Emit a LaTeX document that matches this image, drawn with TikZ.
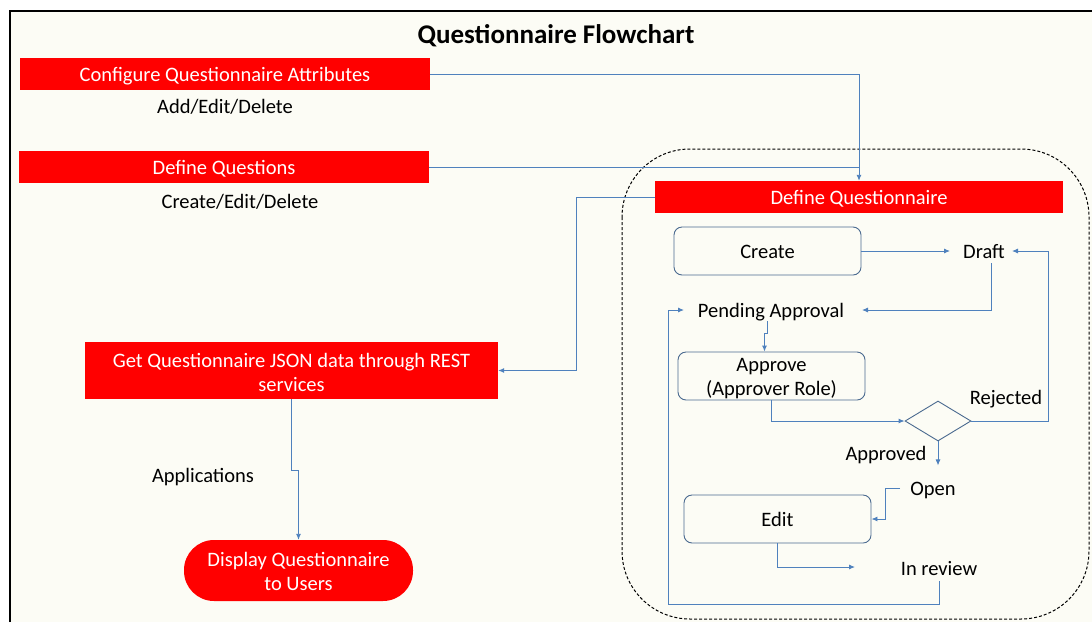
\documentclass[tikz,border=0pt]{standalone}
\usepackage{fontspec}
\setmainfont{Carlito}
\usetikzlibrary{shapes.geometric,arrows.meta,calc}
\definecolor{qred}{HTML}{FF0000}
\definecolor{qline}{HTML}{4F81BD}
\definecolor{qedge}{HTML}{4A6A8F}
\definecolor{qbg}{HTML}{FCFCF5}
\tikzset{
  txt/.style={font=\fontsize{20.5}{24}\selectfont, text height=18pt, text depth=4pt},
  twolines/.style={text height=42pt, text depth=4pt},
  redbox/.style={rectangle, fill=qred, text=white, inner sep=0pt, align=center, txt},
  roundbox/.style={rectangle, rounded corners=8pt, draw=qedge, line width=0.9pt, fill=qbg, minimum width=187pt, minimum height=48pt, inner sep=0pt, align=center, txt},
  lbl/.style={inner sep=0pt, txt, align=center},
  conn/.style={draw=qline, line width=0.9pt},
  arr/.style={conn, -{Latex[length=6pt,width=5pt]}},
}
\begin{document}
\begin{tikzpicture}[x=1pt,y=-1pt]
\useasboundingbox (0,0) rectangle (1092,622);
\fill[white] (0,0) rectangle (1092,622);
\fill[qbg] (10,11) rectangle (1092,622);
\draw[black, line width=2pt] (9.5,622) -- (9.5,10.5) -- (1092,10.5);
% dashed container
\draw[black, line width=1pt, dash pattern=on 3pt off 2pt, rounded corners=68pt] (622,149) rectangle (1089,619);

\node[font=\fontsize{27}{30}\selectfont\bfseries] (title) at (556,36) {Questionnaire Flowchart};

\node[redbox, minimum width=410pt, minimum height=32pt] (cfg) at (225,74) {Configure Questionnaire Attributes};
\node[lbl] (cfgsub) at (225,106) {Add/Edit/Delete};
\node[redbox, minimum width=410pt, minimum height=32pt] (defq) at (224,167) {Define Questions};
\node[lbl] (defqsub) at (240,201) {Create/Edit/Delete};
\node[redbox, minimum width=408pt, minimum height=32pt] (dqn) at (859,197) {Define Questionnaire};
\node[redbox, twolines, text height=45pt, minimum width=413pt, minimum height=57pt] (json) at (291.5,370.5) {Get Questionnaire JSON data through REST\\services};
\node[redbox, twolines, text height=43pt, minimum width=229pt, minimum height=61pt, rounded corners=30pt] (disp) at (298.5,570.5) {Display Questionnaire\\to Users};
\node[lbl] (apps) at (203,475) {Applications};

\node[roundbox] (create) at (767.5,251) {Create};
\node[lbl] (draft) at (984,251) {Draft};
\node[lbl] (pending) at (771,310) {Pending Approval};
\node[roundbox, twolines] (approve) at (771.5,376) {Approve\\(Approver Role)};
\node[diamond, draw=qedge, line width=0.9pt, fill=qbg, minimum width=66pt, minimum height=40pt, inner sep=0pt] (dia) at (938,421) {};
\node[lbl] (rejected) at (1006,397) {Rejected};
\node[lbl] (approved) at (886,453) {Approved};
\node[lbl] (open) at (933,488) {Open};
\node[roundbox] (edit) at (777.5,519) {Edit};
\node[lbl] (inreview) at (939,568) {In review};

% connectors
\draw[arr] (cfg.east) -| (dqn.north);
\draw[conn] (defq.east) -- (defq.east -| dqn.north);
\draw[arr] (dqn.west) -- ++(-78,0) |- (json.east);
\draw[arr] (json.south) -- ++(0,71) -| (disp.north);

\draw[arr] (create.east) -- (950,251);
\draw[arr] ($(draft.south)+(7,1)$) |- (862,310);
\draw[arr] ($(pending.south)+(-4,0)$) -- ++(0,12) -| ($(approve.north)+(-7,0)$);
\draw[arr] (approve.south) |- (dia.west);
\draw[arr] (dia.east) -- ++(77,0) |- (1012,251);
\draw[arr] (dia.south) -- ++(0,24);
\draw[arr] ($(open.west)+(-10,0)$) -- ++(-15,0) |- (edit.east);
\draw[arr] (edit.south) |- (855,567);
\draw[arr] ($(inreview.south)+(0,2)$) -- (939,604) -| (668,310) -- (684,310);
\end{tikzpicture}
\end{document}
